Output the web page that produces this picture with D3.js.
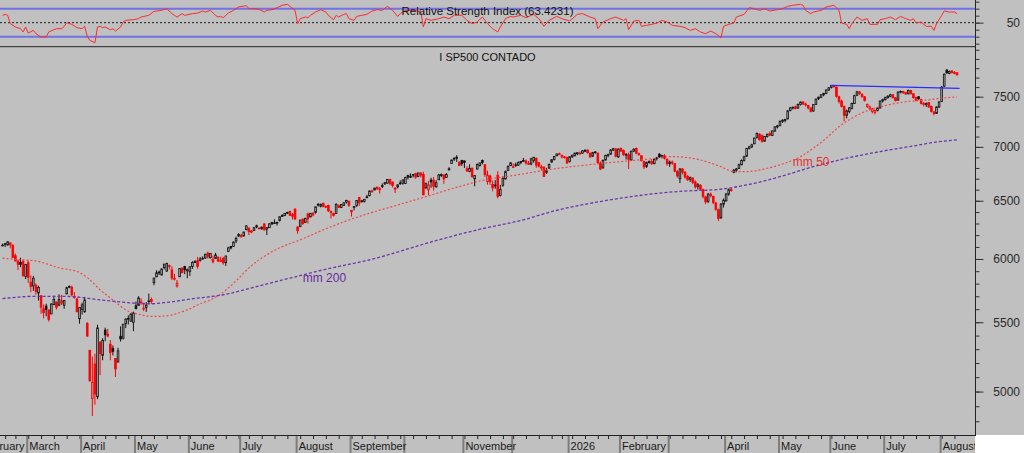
<!DOCTYPE html>
<html>
<head>
<meta charset="utf-8">
<script src="https://cdn.jsdelivr.net/npm/d3@7"></script>
<style>
  body { margin: 0; background: #c0c0c0; overflow: hidden; }
  svg { display: block; }
  text { font-family: "Liberation Sans", Arial, sans-serif; }
</style>
</head>
<body>
<div id="chart"></div>
<script>
// ---- data ----

// trading calendar (NYSE holidays inside the window)
var calendarStart = "2025-02-03", calendarEnd = "2026-08-11", firstBar = "2025-02-14";
var holidays = ["2025-02-17", "2025-04-18", "2025-05-26", "2025-06-19", "2025-07-04",
  "2025-09-01", "2025-11-27", "2025-12-25", "2026-01-01", "2026-01-19", "2026-02-16",
  "2026-04-03", "2026-05-25", "2026-06-19", "2026-07-03"];

// one label per month start, "" where the chart leaves it out
var monthLabels = ["February", "March", "April", "May", "June", "July", "August", "September",
  "", "November", "", "2026", "February", "", "April", "May", "June", "July", "August"];

// daily candles [open, high, low, close]
var candles = [
  // feb 2025
  [6115,6127,6107,6115],[6121,6130,6099,6130],[6117,6147,6111,6144],[6134,6135,6088,6118],[6115,6120,6008,6013],
  [6027,6044,5982,5983],[5982,5993,5909,5955],[5971,6010,5933,5956],[5981,5994,5858,5862],[5857,5959,5837,5955],
  // mar
  [5969,5987,5806,5850],[5812,5866,5732,5778],[5782,5861,5743,5843],[5787,5803,5711,5739],[5726,5783,5667,5770],
  [5705,5706,5565,5615],[5603,5636,5529,5572],[5624,5642,5546,5599],[5594,5597,5505,5522],[5563,5646,5563,5639],
  [5635,5704,5631,5675],[5655,5660,5597,5615],[5632,5715,5622,5675],[5646,5711,5632,5663],[5630,5670,5603,5668],
  [5718,5775,5718,5768],[5776,5786,5763,5777],[5771,5784,5700,5712],[5696,5733,5682,5693],[5679,5685,5573,5581],
  [5527,5616,5489,5612],
  // apr
  [5597,5650,5558,5633],[5581,5695,5571,5671],[5492,5500,5390,5397],[5292,5292,5069,5074],[4953,5246,4835,5062],
  [5193,5267,4910,4983],[4965,5481,4948,5457],[5353,5353,5115,5268],[5255,5381,5220,5363],[5441,5459,5358,5406],
  [5411,5450,5387,5397],[5336,5367,5220,5276],[5306,5328,5255,5283],[5232,5233,5101,5158],[5207,5310,5207,5288],
  [5395,5469,5356,5376],[5381,5485,5371,5485],[5489,5528,5456,5525],[5529,5553,5483,5529],[5508,5571,5506,5561],
  [5500,5581,5433,5569],
  // may
  [5626,5659,5598,5604],[5629,5700,5629,5687],[5656,5684,5634,5650],[5605,5649,5586,5607],[5614,5654,5579,5631],
  [5662,5721,5640,5664],[5674,5691,5641,5660],[5807,5847,5787,5844],[5854,5907,5853,5887],[5891,5906,5869,5893],
  [5869,5924,5867,5917],[5929,5959,5915,5958],[5902,5968,5895,5964],[5945,5954,5915,5941],[5911,5939,5828,5845],
  [5842,5879,5825,5842],[5781,5829,5768,5803],[5855,5924,5855,5922],[5925,5930,5882,5889],[5939,5944,5876,5912],
  [5903,5922,5843,5912],
  // jun
  [5897,5937,5862,5936],[5939,5982,5919,5970],[5978,5991,5967,5971],[5985,6017,5921,5939],[5987,6017,5978,6000],
  [6005,6021,5994,6006],[6009,6043,6000,6039],[6049,6060,6003,6022],[6010,6046,6004,6045],[5997,6027,5964,5977],
  [6005,6050,6005,6033],[6013,6023,5974,5983],[5987,6019,5973,5981],[6005,6018,5953,5968],[5970,6025,5943,6025],
  [6062,6101,6058,6092],[6105,6108,6080,6092],[6104,6146,6101,6141],[6151,6187,6132,6173],[6193,6216,6183,6205],
  // jul
  [6187,6211,6177,6198],[6193,6228,6189,6227],[6247,6284,6241,6279],[6261,6263,6201,6230],[6236,6242,6217,6226],
  [6240,6270,6237,6263],[6270,6290,6259,6281],[6255,6270,6251,6260],[6255,6273,6245,6269],[6296,6302,6241,6244],
  [6252,6268,6201,6264],[6264,6301,6264,6297],[6308,6315,6286,6297],[6304,6336,6303,6306],[6307,6316,6282,6310],
  [6327,6359,6317,6359],[6369,6381,6361,6363],[6370,6390,6364,6389],[6397,6402,6383,6390],[6406,6410,6365,6371],
  [6378,6390,6335,6363],[6427,6428,6332,6339],
  // aug
  [6271,6271,6212,6238],[6272,6330,6272,6330],[6337,6345,6288,6299],[6309,6349,6306,6345],[6383,6395,6300,6340],
  [6357,6390,6357,6389],[6389,6400,6362,6374],[6397,6446,6386,6446],[6461,6481,6449,6467],[6451,6474,6441,6469],
  [6478,6482,6442,6450],[6445,6459,6439,6449],[6457,6465,6401,6411],[6408,6409,6343,6396],[6387,6394,6361,6370],
  [6388,6479,6385,6467],[6457,6466,6438,6439],[6441,6468,6435,6466],[6458,6486,6456,6481],[6489,6509,6475,6502],
  [6497,6497,6445,6460],
  // sep
  [6401,6416,6360,6416],[6448,6454,6415,6448],[6457,6502,6445,6502],[6531,6533,6454,6482],[6499,6508,6484,6495],
  [6496,6515,6484,6513],[6535,6553,6522,6532],[6546,6592,6540,6588],[6587,6601,6575,6584],[6597,6616,6596,6615],
  [6623,6627,6601,6607],[6609,6625,6564,6600],[6636,6657,6614,6632],[6653,6671,6643,6664],[6660,6697,6656,6694],
  [6695,6697,6640,6657],[6670,6672,6620,6638],[6614,6623,6570,6605],[6626,6649,6611,6644],[6661,6685,6645,6661],
  [6660,6695,6645,6689],
  // oct
  [6656,6718,6651,6711],[6732,6734,6693,6715],[6722,6750,6706,6716],[6733,6744,6712,6740],[6748,6755,6699,6715],
  [6722,6754,6714,6754],[6754,6756,6712,6735],[6740,6765,6550,6553],[6618,6665,6605,6655],[6599,6680,6550,6644],
  [6688,6709,6617,6671],[6686,6716,6591,6629],[6626,6687,6617,6664],[6690,6745,6688,6735],[6737,6749,6715,6735],
  [6736,6739,6654,6699],[6713,6753,6706,6738],[6782,6807,6777,6792],[6841,6877,6838,6875],[6884,6902,6866,6891],
  [6902,6920,6856,6891],[6853,6863,6820,6822],[6872,6874,6819,6840],
  // nov
  [6866,6870,6800,6852],[6792,6816,6763,6772],[6767,6834,6760,6796],[6799,6801,6708,6720],[6699,6730,6631,6729],
  [6790,6842,6786,6832],[6822,6850,6812,6847],[6870,6879,6833,6851],[6831,6832,6717,6738],[6673,6776,6646,6734],
  [6725,6736,6643,6672],[6647,6683,6585,6617],[6635,6688,6608,6642],[6732,6770,6521,6539],[6547,6643,6539,6603],
  [6640,6721,6626,6705],[6697,6776,6697,6766],[6777,6824,6777,6813],[6822,6850,6818,6849],
  // dec
  [6812,6845,6800,6812],[6830,6851,6810,6829],[6826,6862,6820,6850],[6860,6866,6835,6857],[6866,6895,6860,6870],
  [6866,6880,6832,6846],[6842,6866,6830,6840],[6838,6895,6825,6886],[6870,6904,6850,6901],[6890,6900,6801,6827],
  [6850,6856,6805,6816],[6810,6830,6775,6800],[6808,6815,6718,6721],[6760,6800,6745,6775],[6800,6840,6790,6834],
  [6855,6880,6850,6878],[6880,6912,6870,6909],[6915,6935,6912,6932],[6935,6945,6920,6930],[6920,6925,6890,6905],
  [6905,6912,6890,6896],[6900,6905,6843,6845],
  // jan 2026
  [6860,6910,6850,6905],[6905,6925,6895,6920],[6915,6945,6910,6940],[6935,6950,6920,6944],[6940,6955,6925,6935],
  [6940,6970,6935,6962],[6960,6978,6950,6966],[6970,6975,6935,6945],[6940,6945,6895,6905],[6910,6952,6905,6945],
  [6945,6960,6935,6952],[6940,6945,6840,6850],[6845,6860,6780,6790],[6800,6880,6795,6870],[6875,6925,6870,6918],
  [6920,6935,6900,6925],[6930,6978,6925,6970],[6970,6990,6960,6982],[6980,6990,6900,6910],[6905,6985,6895,6978],
  // feb
  [6985,6995,6950,6960],[6965,6975,6915,6925],[6920,6940,6880,6930],[6925,6945,6790,6880],[6875,6965,6870,6958],
  [6960,6985,6950,6978],[6985,6995,6930,6940],[6935,6945,6915,6925],[6915,6920,6860,6870],[6860,6870,6790,6810],
  [6815,6860,6800,6850],[6850,6870,6840,6862],[6860,6885,6830,6840],[6840,6890,6835,6882],[6890,6905,6870,6895],
  [6930,6940,6895,6905],[6905,6925,6890,6918],[6915,6930,6880,6890],[6880,6890,6820,6840],
  // mar
  [6840,6870,6810,6855],[6855,6870,6830,6845],[6840,6845,6760,6770],[6765,6780,6710,6725],[6700,6800,6660,6790],
  [6790,6800,6740,6760],[6760,6770,6700,6715],[6720,6735,6680,6690],[6695,6720,6670,6710],[6705,6715,6650,6665],
  [6670,6685,6610,6625],[6630,6660,6600,6645],[6640,6650,6590,6605],[6600,6610,6520,6540],[6535,6545,6470,6490],
  [6495,6570,6480,6560],[6560,6575,6530,6545],[6540,6545,6470,6485],[6480,6490,6410,6425],[6420,6430,6320,6345],
  [6350,6480,6340,6470],[6470,6520,6440,6505],
  // apr
  [6500,6570,6490,6560],[6560,6610,6545,6600],[6600,6615,6580,6595],[6760,6790,6750,6780],[6780,6800,6760,6790],
  [6795,6840,6790,6830],[6830,6880,6825,6870],[6870,6915,6860,6905],[6910,6990,6905,6985],[6985,7010,6975,7000],
  [7000,7030,6990,7020],[7030,7090,7025,7085],[7090,7140,7080,7130],[7125,7130,7060,7070],[7110,7120,7040,7055],
  [7055,7105,7050,7100],[7100,7130,7090,7120],[7130,7150,7105,7112],[7110,7160,7105,7155],[7155,7200,7145,7195],
  [7195,7215,7180,7205],
  // may
  [7210,7260,7200,7250],[7250,7270,7235,7262],[7260,7275,7240,7270],[7275,7365,7270,7355],[7360,7395,7350,7385],
  [7385,7400,7370,7392],[7395,7410,7370,7380],[7385,7430,7375,7420],[7420,7450,7410,7445],[7445,7455,7415,7425],
  [7425,7440,7400,7415],[7410,7415,7370,7385],[7385,7390,7340,7350],[7355,7425,7345,7418],[7420,7480,7415,7475],
  [7480,7500,7465,7495],[7495,7525,7485,7520],[7520,7540,7505,7535],[7535,7575,7525,7570],[7570,7600,7560,7592],
  // jun
  [7595,7620,7585,7612],[7612,7625,7595,7605],[7600,7605,7490,7505],[7500,7510,7430,7450],[7455,7470,7390,7400],
  [7400,7410,7250,7310],[7310,7370,7280,7355],[7350,7395,7330,7385],[7380,7440,7370,7430],[7430,7520,7425,7510],
  [7515,7560,7505,7550],[7550,7560,7520,7530],[7525,7535,7490,7500],[7500,7505,7450,7460],[7400,7430,7385,7420],
  [7380,7410,7360,7395],[7350,7385,7330,7375],[7340,7370,7320,7360],[7360,7395,7350,7385],[7385,7460,7380,7455],
  [7455,7480,7440,7470],
  // jul
  [7470,7500,7460,7490],[7490,7515,7480,7505],[7505,7530,7495,7520],[7520,7525,7480,7490],[7490,7495,7450,7460],
  [7465,7555,7460,7548],[7550,7565,7535,7555],[7555,7560,7530,7540],[7545,7550,7520,7528],[7530,7575,7525,7565],
  [7565,7570,7525,7530],[7530,7535,7480,7490],[7490,7500,7450,7465],[7500,7505,7470,7478],[7470,7480,7420,7430],
  [7430,7445,7400,7420],[7420,7440,7395,7430],[7440,7445,7385,7395],[7400,7410,7340,7350],[7345,7350,7310,7330],
  [7330,7400,7325,7395],[7395,7455,7385,7445],
  // aug
  [7450,7610,7445,7600],[7610,7745,7600,7735],[7780,7790,7740,7750],[7745,7775,7735,7765],[7770,7780,7745,7752],
  [7755,7770,7735,7745],[7750,7760,7720,7730]
];

// moving averages, [bar, value] read every few bars
var ma50 = [[0,6007],[7,5993],[12,5987],[22,5928],[30,5889],[34,5831],[38,5751],[43,5672],[48,5595],
  [54,5557],[59,5544],[64,5549],[72,5595],[77,5641],[81,5672],[84,5704],[91,5822],[96,5927],[103,6035],
  [108,6093],[116,6160],[125,6245],[133,6314],[143,6390],[152,6449],[165,6537],[178,6628],[189,6695],
  [198,6726],[214,6788],[228,6829],[241,6860],[251,6882],[261,6907],[272,6875],[280,6812],[285,6766],
  [290,6766],[298,6797],[303,6829],[311,6907],[316,6987],[321,7083],[326,7197],[331,7281],[337,7357],
  [345,7415],[352,7448],[360,7466],[370,7494],[372,7497]];
var ma200 = [[0,5682],[12,5699],[25,5699],[38,5672],[51,5647],[57,5641],[64,5652],[73,5678],[86,5712],
  [99,5777],[112,5844],[125,5911],[143,5993],[170,6160],[185,6245],[204,6338],[214,6404],[228,6473],
  [241,6523],[253,6561],[267,6589],[277,6598],[290,6643],[303,6719],[316,6812],[329,6892],[342,6955],
  [355,7009],[365,7051],[372,7067]];

// RSI, [bar, value]
var rsi = [[0,60.5],[1,61.9],[2,60.5],[3,48.6],[5,43.8],[7,41.4],[8,36.7],[9,43.8],[10,35.2],[12,39],
  [13,34.3],[15,29.5],[17,29.5],[18,36.7],[20,40],[21,41.4],[23,41.4],[24,44.8],[25,50],[27,47.6],
  [29,42.9],[31,41.4],[32,44.8],[33,30.5],[34,24.8],[36,21.4],[37,43.8],[38,44.8],[39,42.9],[40,43.8],
  [42,40],[43,41.4],[44,38.1],[46,43.8],[47,51],[48,53.3],[51,54.3],[53,55.7],[54,58.1],[57,60.5],
  [59,66.2],[62,67.6],[63,69],[64,70],[66,62.9],[67,60.5],[68,58.1],[70,62.9],[71,60.5],[74,62.9],
  [76,63.8],[78,66.7],[79,65.2],[81,67.6],[83,60.5],[84,58.1],[85,59],[86,57.1],[88,63.8],[90,67.6],
  [92,72.4],[95,74.3],[96,70],[98,70],[100,69],[102,65.2],[103,67.6],[105,68.6],[107,71.4],[109,74.8],
  [111,76.2],[112,73.3],[114,67.6],[115,48.6],[116,55.7],[118,58.1],[119,57.1],[120,60.5],[122,65.2],
  [124,68.6],[126,65.2],[127,60.5],[129,54.3],[130,60.5],[131,58.1],[133,61.9],[134,62.9],[135,55.7],
  [137,53.3],[138,59],[140,60.5],[142,61.9],[144,66.7],[146,68.6],[148,67.6],[150,73.3],[152,67.6],
  [154,59],[155,62.9],[157,67.6],[161,67.6],[163,65.2],[164,43.8],[165,55.7],[167,53.3],[170,55.7],
  [172,58.1],[174,55.7],[176,60.5],[179,60.5],[181,53.3],[183,48.6],[185,51],[187,58.1],[189,48.6],
  [191,41.4],[193,36.7],[194,43.8],[196,55.7],[198,59],[199,58.1],[202,60.5],[204,57.1],[207,61.9],
  [209,55.7],[210,51],[211,44.8],[213,53.3],[216,59],[218,55.7],[221,52.4],[224,61.9],[226,62.9],
  [229,58.1],[231,55.7],[232,41.4],[234,51],[237,55.7],[239,58.1],[242,53.3],[243,55.7],[244,40],
  [246,52.4],[248,53.3],[249,44.8],[251,46.2],[253,47.6],[255,49.5],[257,53.3],[259,51],[261,46.2],
  [264,44.8],[266,42.9],[268,39],[270,41.4],[272,36.7],[274,34.3],[276,38.1],[278,34.3],[280,28.6],
  [281,44.8],[283,47.6],[285,49.5],[286,58.1],[289,61.9],[291,71.4],[293,70],[295,67.6],[297,70],
  [299,66.7],[302,68.6],[304,70],[306,73.3],[308,74.8],[311,76.2],[312,74.8],[313,67.6],[315,62.9],
  [316,65.2],[319,67.6],[321,72.4],[324,74.8],[326,67.6],[327,49.5],[329,47.6],[330,41.4],[331,48.6],
  [333,58.1],[335,53.3],[337,55.7],[338,47.6],[341,47.6],[342,54.3],[344,55.7],[346,58.1],[348,54.3],
  [350,59],[352,55.7],[354,53.3],[355,55.7],[356,49.5],[358,51],[360,44.8],[362,44.8],[363,39],
  [364,48.6],[366,60.5],[367,66.7],[369,65.2],[371,65.2],[372,62.9]];
var rsiLevels = [30, 70];
var rsiTicks = [20, 30, 40, 50, 60, 70, 80];

// resistance line drawn on the chart, [bar, value]
var trendLine = [[322.5, 7618], [373, 7587]];

var priceLabels = [5000, 5500, 6000, 6500, 7000, 7500];
var priceMinor = d3.range(4800, 8001, 100);

// ---- layout ----
var W = 1024, H = 453;
var plotRight = 975, rsiBottom = 46.7, axisY = 435;

var fmt = d3.utcFormat("%Y-%m-%d");
var parseDay = d3.utcParse("%Y-%m-%d");
var days = d3.utcDays(parseDay(calendarStart), d3.utcDay.offset(parseDay(calendarEnd), 1))
  .filter(function(d) { return d.getUTCDay() !== 0 && d.getUTCDay() !== 6 && holidays.indexOf(fmt(d)) < 0; });
var firstK = days.findIndex(function(d) { return fmt(d) === firstBar; });

var monthStarts = [], weekStarts = [];
days.forEach(function(d, k) {
  if (k === 0 || d.getUTCMonth() !== days[k - 1].getUTCMonth()) monthStarts.push(k);
  if (k > 0 && +d3.utcMonday.floor(d) !== +d3.utcMonday.floor(days[k - 1])) weekStarts.push(k);
});

var bars = candles.map(function(c, j) {
  return {k: firstK + j, o: c[0], h: c[1], l: c[2], c: c[3], prev: j > 0 ? candles[j - 1][3] : c[0]};
});

var x = d3.scaleLinear().domain([firstK - 1, firstK + 379]).range([0, plotRight]);
var y = d3.scaleLog().domain([4710, 8034]).range([axisY, rsiBottom]);
var yr = d3.scaleLinear().domain([15.7, 82.4]).range([rsiBottom, 0]);

var svg = d3.select("#chart").append("svg")
    .attr("width", W)
    .attr("height", H);

svg.append("rect").attr("width", W).attr("height", H).attr("fill", "#c0c0c0");
svg.append("rect")
    .attr("x", plotRight).attr("y", axisY)
    .attr("width", W - plotRight).attr("height", H - axisY)
    .attr("fill", "#ffffff");

var defs = svg.append("defs");
defs.append("clipPath").attr("id", "clipRsi")
  .append("rect").attr("x", 0).attr("y", 0).attr("width", plotRight).attr("height", rsiBottom);
defs.append("clipPath").attr("id", "clipPrice")
  .append("rect").attr("x", 0).attr("y", rsiBottom).attr("width", plotRight).attr("height", axisY - rsiBottom);
defs.append("clipPath").attr("id", "clipAxis")
  .append("rect").attr("x", 0).attr("y", axisY).attr("width", plotRight).attr("height", H - axisY);

// ---- RSI panel ----
var rsiG = svg.append("g").attr("clip-path", "url(#clipRsi)");

rsiG.selectAll("line.level")
  .data(rsiLevels)
  .enter().append("line")
    .attr("class", "level")
    .attr("x1", 0).attr("x2", plotRight)
    .attr("y1", function(d) { return yr(d); })
    .attr("y2", function(d) { return yr(d); })
    .attr("stroke", "#7272e6")
    .attr("stroke-width", 2);

rsiG.append("line")
    .attr("x1", 0).attr("x2", plotRight)
    .attr("y1", yr(50)).attr("y2", yr(50))
    .attr("stroke", "#1a1a1a")
    .attr("stroke-dasharray", "2,2");

rsiG.append("path")
    .datum(rsi)
    .attr("fill", "none")
    .attr("stroke", "#ff2a2a")
    .attr("stroke-width", 1)
    .attr("d", d3.line()
      .x(function(d) { return x(firstK + d[0]); })
      .y(function(d) { return yr(d[1]); }));

svg.append("text")
    .attr("x", plotRight / 2).attr("y", 15)
    .attr("text-anchor", "middle")
    .attr("font-size", "11.5px")
    .attr("fill", "#111")
    .text("Relative Strength Index (" + d3.format(".4f")(63.4231) + ")");

// panel separator
svg.append("line")
    .attr("x1", 0).attr("x2", plotRight)
    .attr("y1", rsiBottom).attr("y2", rsiBottom)
    .attr("stroke", "#222");

// ---- price panel ----
var priceG = svg.append("g").attr("clip-path", "url(#clipPrice)");

function candleColor(d) { return d.c < d.prev ? "#ff0000" : "#111111"; }

var bodyW = 1.7;
var candleG = priceG.selectAll("g.candle")
  .data(bars)
  .enter().append("g")
    .attr("class", "candle");

candleG.append("line")
    .attr("x1", function(d) { return x(d.k); })
    .attr("x2", function(d) { return x(d.k); })
    .attr("y1", function(d) { return y(d.h); })
    .attr("y2", function(d) { return y(d.l); })
    .attr("stroke", candleColor)
    .attr("stroke-width", 1);

candleG.append("rect")
    .attr("x", function(d) { return x(d.k) - bodyW / 2; })
    .attr("width", bodyW)
    .attr("y", function(d) { return y(Math.max(d.o, d.c)); })
    .attr("height", function(d) { return Math.max(0.8, Math.abs(y(d.o) - y(d.c))); })
    .attr("fill", function(d) { return d.c < d.o ? candleColor(d) : "#a4a4a4"; })
    .attr("stroke", candleColor)
    .attr("stroke-width", 0.8);

var maLine = d3.line()
    .x(function(d) { return x(firstK + d[0]); })
    .y(function(d) { return y(d[1]); })
    .curve(d3.curveMonotoneX);

priceG.append("path")
    .datum(ma50)
    .attr("fill", "none")
    .attr("stroke", "#f04848")
    .attr("stroke-width", 1.2)
    .attr("stroke-dasharray", "2,2")
    .attr("d", maLine);

priceG.append("path")
    .datum(ma200)
    .attr("fill", "none")
    .attr("stroke", "#6a34aa")
    .attr("stroke-width", 1.3)
    .attr("stroke-dasharray", "3,2")
    .attr("d", maLine);

priceG.append("line")
    .attr("x1", x(firstK + trendLine[0][0])).attr("y1", y(trendLine[0][1]))
    .attr("x2", x(firstK + trendLine[1][0])).attr("y2", y(trendLine[1][1]))
    .attr("stroke", "#2b2bff")
    .attr("stroke-width", 1.1);

priceG.append("text")
    .attr("x", x(firstK + 308)).attr("y", y(6819))
    .attr("font-size", "12px")
    .attr("fill", "#e83030")
    .text("mm 50");

priceG.append("text")
    .attr("x", x(firstK + 117)).attr("y", y(5815))
    .attr("font-size", "12px")
    .attr("fill", "#6a2a9e")
    .text("mm 200");

svg.append("text")
    .attr("x", plotRight / 2).attr("y", 60.5)
    .attr("text-anchor", "middle")
    .attr("font-size", "11px")
    .attr("fill", "#111")
    .text("I SP500 CONTADO");

// ---- right axis ----
svg.append("line")
    .attr("x1", plotRight + 0.5).attr("x2", plotRight + 0.5)
    .attr("y1", 0).attr("y2", axisY)
    .attr("stroke", "#222");

// labels right-aligned near the page edge, relative to the axis group
var labelX = W - 4 - (plotRight + 0.5);

function styleAxis(g) {
  g.select(".domain").remove();
  g.selectAll(".tick line").attr("stroke", "#333");
  g.selectAll(".tick text")
    .attr("x", labelX)
    .attr("text-anchor", "end")
    .attr("fill", "#2a2a2a")
    .style("font-size", "12px")
    .style("font-family", "'Liberation Sans', Arial, sans-serif");
}

svg.append("g")
    .attr("transform", "translate(" + (plotRight + 0.5) + ",0)")
    .call(d3.axisRight(y).tickValues(priceMinor).tickSize(4).tickFormat(""))
    .call(styleAxis);

svg.append("g")
    .attr("transform", "translate(" + (plotRight + 0.5) + ",0)")
    .call(d3.axisRight(y).tickValues(priceLabels).tickSize(8).tickFormat(d3.format("d")))
    .call(styleAxis);

svg.append("g")
    .attr("transform", "translate(" + (plotRight + 0.5) + ",0)")
    .call(d3.axisRight(yr).tickValues(rsiTicks).tickSize(4).tickFormat(""))
    .call(styleAxis);

svg.append("g")
    .attr("transform", "translate(" + (plotRight + 0.5) + ",0)")
    .call(d3.axisRight(yr).tickValues([50]).tickSize(8).tickFormat(d3.format("d")))
    .call(styleAxis);

// ---- bottom axis ----
var xAxisG = svg.append("g").attr("clip-path", "url(#clipAxis)");

xAxisG.append("g")
    .attr("transform", "translate(0," + axisY + ")")
    .call(d3.axisBottom(x).tickValues(weekStarts).tickSize(4).tickFormat(""))
    .call(function(g) {
      g.select(".domain").remove();
      g.selectAll(".tick line").attr("stroke", "#222");
    });

xAxisG.selectAll("line.month")
  .data(monthStarts)
  .enter().append("line")
    .attr("class", "month")
    .attr("x1", function(k) { return x(k) - 1; })
    .attr("x2", function(k) { return x(k) - 1; })
    .attr("y1", axisY).attr("y2", H)
    .attr("stroke", "#7d7d7d")
    .attr("stroke-width", 2);

xAxisG.selectAll("text.month")
  .data(monthStarts)
  .enter().append("text")
    .attr("class", "month")
    .attr("x", function(k) { return x(k) + 1; })
    .attr("y", 450)
    .attr("font-size", "11px")
    .attr("fill", "#1a1a1a")
    .text(function(k, i) { return monthLabels[i] || ""; });

svg.append("line")
    .attr("x1", 0).attr("x2", plotRight + 1)
    .attr("y1", axisY + 0.5).attr("y2", axisY + 0.5)
    .attr("stroke", "#222");
</script>
</body>
</html>
